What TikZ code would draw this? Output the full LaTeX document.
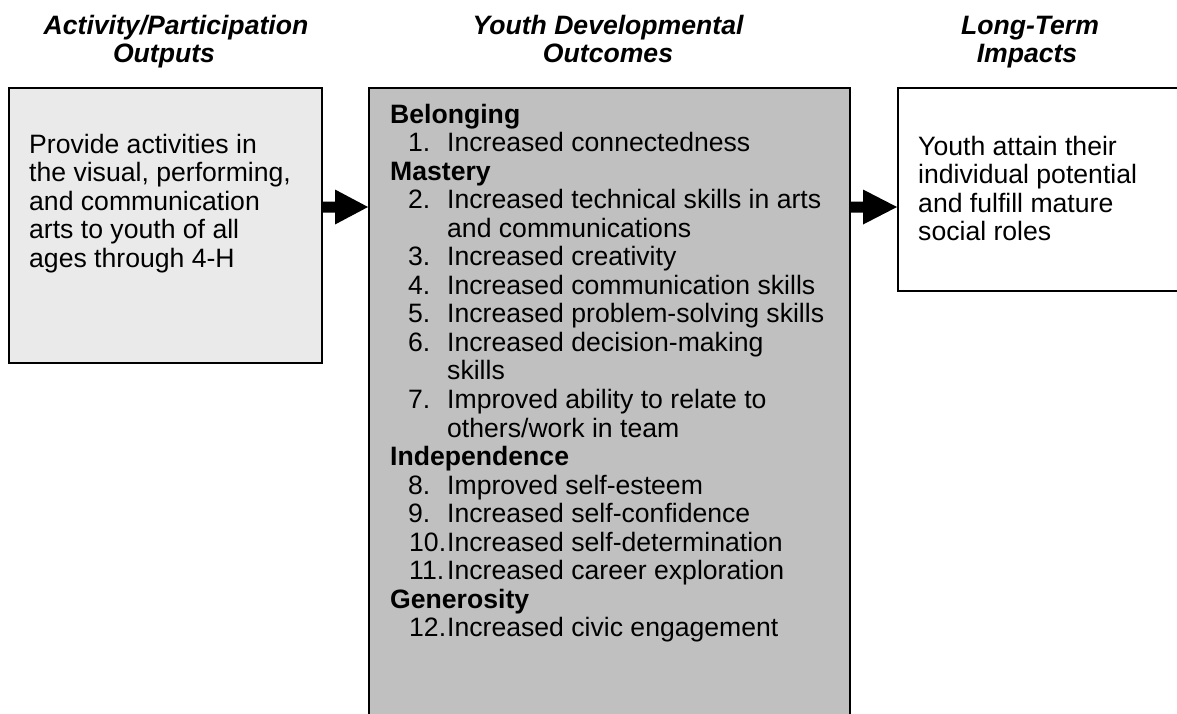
\documentclass[tikz,border=0pt]{standalone}
\usepackage{fontspec}
\setmainfont{Liberation Sans}
\usetikzlibrary{calc}
\definecolor{outfill}{HTML}{EAEAEA}
\definecolor{midfill}{HTML}{C0C0C0}
\begin{document}
\begin{tikzpicture}[x=1pt,y=-1pt,
  box/.style={draw=black,line width=2pt,inner sep=0pt,anchor=north west},
  txt/.style={inner sep=0pt,anchor=base west,font=\fontsize{26.6}{28.55}\selectfont},
  grp/.style={txt,font=\fontsize{26.6}{28.55}\selectfont\bfseries},
  head/.style={inner sep=0pt,anchor=base,font=\fontsize{26.6}{28.55}\selectfont\bfseries\itshape}]
\useasboundingbox (0,0) rectangle (1177,713);
\clip (0,0) rectangle (1177,713);

% column headings
\node[head] (h1a) at (176,34) {Activity/Participation};
\node[head] (h1b) at (164,62) {Outputs};
\node[head] (h2a) at (608,34) {Youth Developmental};
\node[head] (h2b) at (608,62) {Outcomes};
\node[head] (h3a) at (1030,34) {Long-Term};
\node[head] (h3b) at (1027,62) {Impacts};

% the three boxes
\node[box,fill=outfill,minimum width=313pt,minimum height=275pt] (L) at (8,87) {};
\node[box,fill=midfill,minimum width=481pt,minimum height=700pt] (M) at (368,87) {};
\node[box,fill=white,minimum width=400pt,minimum height=203pt] (R) at (897,87) {};

% block arrows between the boxes
\newcommand\blockarrow[2]{%
  \coordinate (s) at (#1.east |- 0,207);
  \fill ($(s)+(0,-5.5)$) -- ($(s)+(12,-5.5)$) -- ($(s)+(12,-17.5)$)
     -- (#2.west |- s) -- ($(s)+(12,17.5)$) -- ($(s)+(12,5.5)$)
     -- ($(s)+(0,5.5)$) -- cycle;}
\blockarrow{L}{M}
\blockarrow{M}{R}

% left box text
\node[txt] (l1) at (29,153)    {Provide activities in};
\node[txt] (l2) at (29,181.55) {the visual, performing,};
\node[txt] (l3) at (29,210.1)  {and communication};
\node[txt] (l4) at (29,238.65) {arts to youth of all};
\node[txt] (l5) at (29,267.2)  {ages through 4-H};

% right box text
\node[txt] (r1) at (918,155)    {Youth attain their};
\node[txt] (r2) at (918,183.55) {individual potential};
\node[txt] (r3) at (918,212.1)  {and fulfill mature};
\node[txt] (r4) at (918,240.65) {social roles};

% middle box: groups and numbered outcomes
\node[grp] (g1) at (390,123) {Belonging};
\node[txt] (n1) at (408,151.55) {1.};
\node[txt] (t1) at (447,151.55) {Increased connectedness};
\node[grp] (g2) at (390,180.1) {Mastery};
\node[txt] (n2) at (408,208.65) {2.};
\node[txt] (t2) at (447,208.65) {Increased technical skills in arts};
\node[txt] (t2b) at (447,237.2) {and communications};
\node[txt] (n3) at (408,265.75) {3.};
\node[txt] (t3) at (447,265.75) {Increased creativity};
\node[txt] (n4) at (408,294.3) {4.};
\node[txt] (t4) at (447,294.3) {Increased communication skills};
\node[txt] (n5) at (408,322.85) {5.};
\node[txt] (t5) at (447,322.85) {Increased problem-solving skills};
\node[txt] (n6) at (408,351.4) {6.};
\node[txt] (t6) at (447,351.4) {Increased decision-making};
\node[txt] (t6b) at (447,379.95) {skills};
\node[txt] (n7) at (408,408.5) {7.};
\node[txt] (t7) at (447,408.5) {Improved ability to relate to};
\node[txt] (t7b) at (447,437.05) {others/work in team};
\node[grp] (g3) at (390,465.6) {Independence};
\node[txt] (n8) at (408,494.15) {8.};
\node[txt] (t8) at (447,494.15) {Improved self-esteem};
\node[txt] (n9) at (408,522.7) {9.};
\node[txt] (t9) at (447,522.7) {Increased self-confidence};
\node[txt] (n10) at (409,551.25) {10.};
\node[txt] (t10) at (447,551.25) {Increased self-determination};
\node[txt] (n11) at (409,579.8) {11.};
\node[txt] (t11) at (447,579.8) {Increased career exploration};
\node[grp] (g4) at (390,608.35) {Generosity};
\node[txt] (n12) at (409,636.9) {12.};
\node[txt] (t12) at (447,636.9) {Increased civic engagement};
\end{tikzpicture}
\end{document}
